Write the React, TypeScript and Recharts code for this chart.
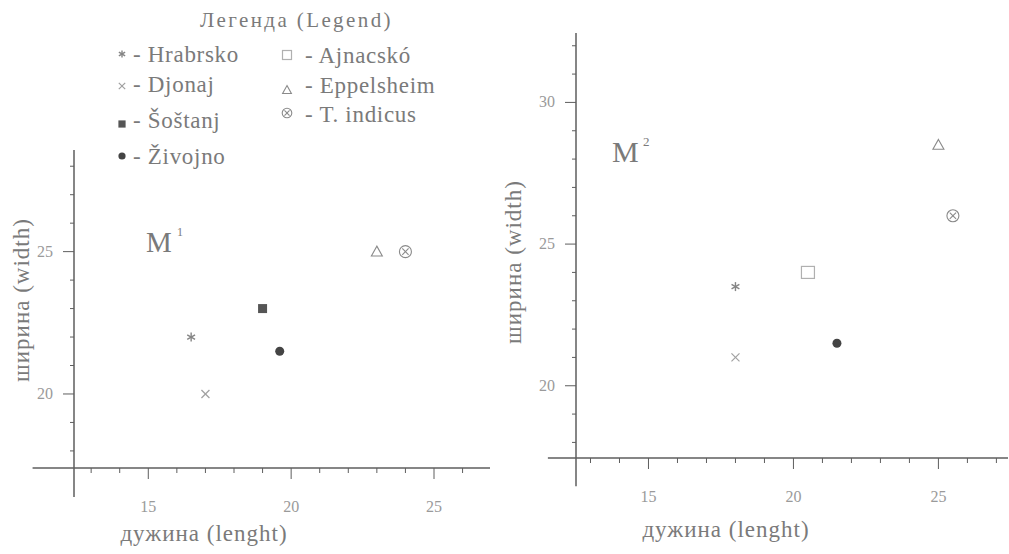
import React from 'react';
import { ScatterChart, Scatter, XAxis, YAxis, ReferenceLine } from 'recharts';

// ---- data ----
const SITES = ['Hrabrsko', 'Djonaj', 'Šoštanj', 'Živojno', 'Ajnacskó', 'Eppelsheim', 'T. indicus'];
const SYMBOLS = ['asterisk', 'cross', 'square', 'circle', 'openSquare', 'triangle', 'otimes'];
const M1_LENGTH: (number | null)[] = [16.5, 17, 19, 19.6, null, 23, 24];
const M1_WIDTH: (number | null)[] = [22, 20, 23, 21.5, null, 25, 25];
const M2_LENGTH: (number | null)[] = [18, 18, null, 21.5, 20.5, 25, 25.5];
const M2_WIDTH: (number | null)[] = [23.5, 21, null, 21.5, 24, 28.5, 26];

const X_MAJOR = [15, 20, 25];
const M1_X_TICKS = [13, 14, 15, 16, 17, 18, 19, 20, 21, 22, 23, 24, 25, 26];
const M1_Y_TICKS = [18, 19, 20, 21, 22, 23, 24, 25, 26, 27, 28];
const M1_Y_MAJOR = [20, 25];
const M2_X_TICKS = [13, 14, 15, 16, 17, 18, 19, 20, 21, 22, 23, 24, 25, 26, 27];
const M2_Y_TICKS = [18, 19, 20, 21, 22, 23, 24, 25, 26, 27, 28, 29, 30, 31, 32];
const M2_Y_MAJOR = [20, 25, 30];

const AXIS_COLOR = '#5e5e5e';
const TICK_TEXT = '#9a9a9a';
const TEXT = '#7a7a7a';
const FONT = "'Liberation Serif', 'Times New Roman', serif";

function Marker({ kind, cx, cy, legend }: { kind: string; cx: number; cy: number; legend?: boolean }) {
  const s = legend ? 0.8 : 1;
  switch (kind) {
    case 'asterisk': {
      const r = 4.5 * s;
      return (
        <g stroke="#858585" strokeWidth={1.4}>
          <line x1={cx} y1={cy - r} x2={cx} y2={cy + r} />
          <line x1={cx - r * 0.87} y1={cy - r * 0.5} x2={cx + r * 0.87} y2={cy + r * 0.5} />
          <line x1={cx - r * 0.87} y1={cy + r * 0.5} x2={cx + r * 0.87} y2={cy - r * 0.5} />
        </g>
      );
    }
    case 'cross': {
      const r = 4 * s;
      return (
        <g stroke="#a0a0a0" strokeWidth={1.2}>
          <line x1={cx - r} y1={cy - r} x2={cx + r} y2={cy + r} />
          <line x1={cx - r} y1={cy + r} x2={cx + r} y2={cy - r} />
        </g>
      );
    }
    case 'square': {
      const r = 4.5 * s;
      return <rect x={cx - r} y={cy - r} width={2 * r} height={2 * r} fill="#555" />;
    }
    case 'circle':
      return <circle cx={cx} cy={cy} r={4.5 * s} fill="#444" />;
    case 'openSquare': {
      const w = legend ? 9 : 13;
      const h = legend ? 9 : 12;
      return (
        <rect x={cx - w / 2} y={cy - h / 2} width={w} height={h} fill="none" stroke="#b0b0b0" strokeWidth={1.2} />
      );
    }
    case 'triangle': {
      const r = 5.5 * s;
      return (
        <path
          d={`M${cx},${cy - r} L${cx + r},${cy + r * 0.8} L${cx - r},${cy + r * 0.8} Z`}
          fill="none"
          stroke="#8a8a8a"
          strokeWidth={1.1}
        />
      );
    }
    case 'otimes': {
      const r = 6 * s;
      const d = r * 0.7;
      return (
        <g stroke="#8a8a8a" strokeWidth={1.1} fill="none">
          <circle cx={cx} cy={cy} r={r} />
          <line x1={cx - d * 0.75} y1={cy - d * 0.75} x2={cx + d * 0.75} y2={cy + d * 0.75} />
          <line x1={cx - d * 0.75} y1={cy + d * 0.75} x2={cx + d * 0.75} y2={cy - d * 0.75} />
        </g>
      );
    }
    default:
      return null;
  }
}

function makeXTick(major: number[]) {
  return (props: any) => {
    const { x, y, payload } = props;
    const isMajor = major.includes(payload.value);
    return (
      <g>
        <line x1={x} y1={y} x2={x} y2={y + (isMajor ? 11 : 5)} stroke={AXIS_COLOR} strokeWidth={1} />
        {isMajor && (
          <text x={x} y={y + 44} textAnchor="middle" fill={TICK_TEXT} fontSize={16} style={{ fontFamily: FONT }}>
            {payload.value}
          </text>
        )}
      </g>
    );
  };
}

function makeYTick(major: number[]) {
  return (props: any) => {
    const { x, y, payload } = props;
    const isMajor = major.includes(payload.value);
    return (
      <g>
        <line x1={x} y1={y} x2={x - (isMajor ? 11 : 4)} y2={y} stroke={AXIS_COLOR} strokeWidth={1} />
        {isMajor && (
          <text x={x - 21} y={y + 5} textAnchor="end" fill={TICK_TEXT} fontSize={16} style={{ fontFamily: FONT }}>
            {payload.value}
          </text>
        )}
      </g>
    );
  };
}

function buildSeries(xs: (number | null)[], ys: (number | null)[]) {
  return SITES.map((name, i) => ({
    name,
    kind: SYMBOLS[i],
    data: xs[i] != null && ys[i] != null ? [{ x: xs[i] as number, y: ys[i] as number }] : [],
  })).filter((s) => s.data.length > 0);
}

type PanelProps = {
  width: number;
  height: number;
  margin: { top: number; right: number; bottom: number; left: number };
  xDomain: [number, number];
  yDomain: [number, number];
  xExtLeft: number;
  yExtBottom: number;
  xTicks: number[];
  yTicks: number[];
  yMajor: number[];
  series: { name: string; kind: string; data: { x: number; y: number }[] }[];
};

function Panel(p: PanelProps) {
  const [x0, x1] = p.xDomain;
  const [y0, y1] = p.yDomain;
  return (
    <ScatterChart width={p.width} height={p.height} margin={p.margin}>
      <XAxis
        type="number"
        dataKey="x"
        domain={p.xDomain}
        allowDataOverflow
        ticks={p.xTicks}
        interval={0}
        height={1}
        axisLine={false}
        tickLine={false}
        tickSize={0}
        tickMargin={0}
        tick={makeXTick(X_MAJOR)}
      />
      <YAxis
        type="number"
        dataKey="y"
        domain={p.yDomain}
        allowDataOverflow
        ticks={p.yTicks}
        interval={0}
        width={1}
        axisLine={false}
        tickLine={false}
        tickSize={0}
        tickMargin={0}
        tick={makeYTick(p.yMajor)}
      />
      <ReferenceLine
        segment={[{ x: p.xExtLeft, y: y0 }, { x: x1, y: y0 }]}
        stroke={AXIS_COLOR}
        strokeWidth={1.5}
        ifOverflow="visible"
      />
      <ReferenceLine
        segment={[{ x: x0, y: p.yExtBottom }, { x: x0, y: y1 }]}
        stroke={AXIS_COLOR}
        strokeWidth={1.5}
        ifOverflow="visible"
      />
      {p.series.map((s) => (
        <Scatter
          key={s.name}
          name={s.name}
          data={s.data}
          isAnimationActive={false}
          shape={(sp: any) => <Marker kind={s.kind} cx={sp.cx} cy={sp.cy} />}
        />
      ))}
    </ScatterChart>
  );
}

const LEGEND_COL1 = [0, 1, 2, 3];
const LEGEND_COL2 = [4, 5, 6];
const COL1_BASE = [62, 92, 128, 164];
const COL2_BASE = [63, 93, 122];
const COL1_SYM_OFF = [8, 6, 4, 8];
const COL2_SYM_OFF = [8, 3, 9];

export default function App() {
  const m1 = buildSeries(M1_LENGTH, M1_WIDTH);
  const m2 = buildSeries(M2_LENGTH, M2_WIDTH);
  return (
    <div style={{ position: 'absolute', left: 0, top: 0, width: 1009, height: 554, background: '#fff', overflow: 'hidden' }}>
      <div style={{ position: 'absolute', left: 0, top: 0 }}>
        <Panel
          width={500}
          height={554}
          margin={{ top: 150, right: 10, bottom: 85, left: 73 }}
          xDomain={[12.4, 26.96]}
          yDomain={[17.4, 28.57]}
          xExtLeft={10.95}
          yExtBottom={16.38}
          xTicks={M1_X_TICKS}
          yTicks={M1_Y_TICKS}
          yMajor={M1_Y_MAJOR}
          series={m1}
        />
      </div>
      <div style={{ position: 'absolute', left: 500, top: 0 }}>
        <Panel
          width={509}
          height={554}
          margin={{ top: 33, right: 1, bottom: 95, left: 75 }}
          xDomain={[12.5, 27.4]}
          yDomain={[17.45, 32.45]}
          xExtLeft={11.53}
          yExtBottom={16.45}
          xTicks={M2_X_TICKS}
          yTicks={M2_Y_TICKS}
          yMajor={M2_Y_MAJOR}
          series={m2}
        />
      </div>
      <svg width={1009} height={554} style={{ position: 'absolute', left: 0, top: 0, pointerEvents: 'none', fontFamily: FONT }}>
        <g fill={TEXT}>
          <text x={200} y={27} fontSize={21} letterSpacing={2.4}>Легенда (Legend)</text>
          {LEGEND_COL1.map((idx, r) => (
            <g key={SITES[idx]}>
              <Marker kind={SYMBOLS[idx]} cx={122} cy={COL1_BASE[r] - COL1_SYM_OFF[r]} legend />
              <text x={133} y={COL1_BASE[r]} fontSize={23} letterSpacing={0.7}>{'- ' + SITES[idx]}</text>
            </g>
          ))}
          {LEGEND_COL2.map((idx, r) => (
            <g key={SITES[idx]}>
              <Marker kind={SYMBOLS[idx]} cx={287} cy={COL2_BASE[r] - COL2_SYM_OFF[r]} legend />
              <text x={305} y={COL2_BASE[r]} fontSize={23} letterSpacing={0.7}>{'- ' + SITES[idx]}</text>
            </g>
          ))}
          <text x={146} y={252} fontSize={29}>M</text>
          <text x={177} y={236} fontSize={12}>1</text>
          <text x={612} y={162} fontSize={30}>M</text>
          <text x={643} y={146} fontSize={13}>2</text>
          <text x={204} y={541} fontSize={23} letterSpacing={1} textAnchor="middle">дужина (lenght)</text>
          <text x={726} y={537} fontSize={23} letterSpacing={1} textAnchor="middle">дужина (lenght)</text>
          <text x={29} y={300} fontSize={23} letterSpacing={1} textAnchor="middle" transform="rotate(-90 29 300)">ширина (width)</text>
          <text x={521} y={262} fontSize={23} letterSpacing={1} textAnchor="middle" transform="rotate(-90 521 262)">ширина (width)</text>
        </g>
      </svg>
    </div>
  );
}
